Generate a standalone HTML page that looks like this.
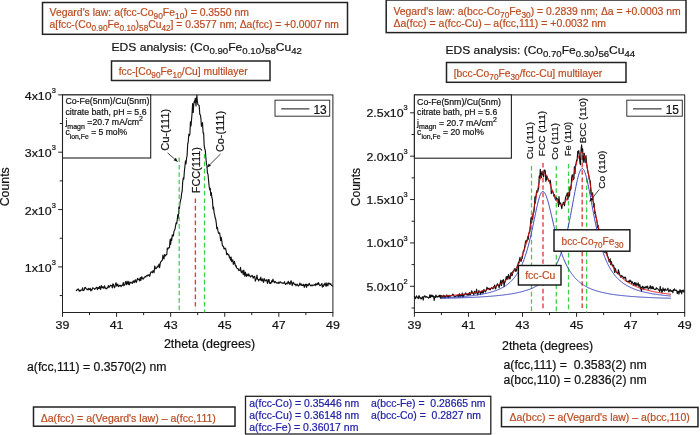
<!DOCTYPE html>
<html><head><meta charset="utf-8"><title>XRD</title>
<style>
html,body{margin:0;padding:0;background:#fff;}
body{width:700px;height:435px;overflow:hidden;}
svg{display:block;font-family:"Liberation Sans",sans-serif;filter:opacity(0.999);}
</style></head><body>
<svg width="700" height="435" viewBox="0 0 700 435">
<rect x="0" y="0" width="700" height="435" fill="#fff"/>
<rect x="42.5" y="2.5" width="305.00" height="31.80" fill="#fff" stroke="#222" stroke-width="1.5"/>
<text x="49.6" y="15.5" font-size="10.2" fill="#bb4b20" stroke="#bb4b20" stroke-width="0.2" text-anchor="start" textLength="199.3" lengthAdjust="spacingAndGlyphs">Vegard's law: a(fcc-Co<tspan font-size="8.16" dy="3.06">90</tspan><tspan dy="-3.06">Fe</tspan><tspan font-size="8.16" dy="3.06">10</tspan><tspan dy="-3.06">) = 0.3550 nm</tspan></text>
<text x="49.6" y="28.3" font-size="10.2" fill="#bb4b20" stroke="#bb4b20" stroke-width="0.2" text-anchor="start" textLength="289.3" lengthAdjust="spacingAndGlyphs">a[fcc-(Co<tspan font-size="8.16" dy="3.06">0.90</tspan><tspan dy="-3.06">Fe</tspan><tspan font-size="8.16" dy="3.06">0.10</tspan><tspan dy="-3.06">)</tspan><tspan font-size="8.16" dy="3.06">58</tspan><tspan dy="-3.06">Cu</tspan><tspan font-size="8.16" dy="3.06">42</tspan><tspan dy="-3.06">] = 0.3577 nm; Δa(fcc) = +0.0007 nm</tspan></text>
<text x="111.5" y="50.8" font-size="11.5" fill="#111" stroke="#111" stroke-width="0.2" text-anchor="start" textLength="190.5" lengthAdjust="spacingAndGlyphs">EDS analysis: (Co<tspan font-size="9.20" dy="3.45">0.90</tspan><tspan dy="-3.45">Fe</tspan><tspan font-size="9.20" dy="3.45">0.10</tspan><tspan dy="-3.45">)</tspan><tspan font-size="9.20" dy="3.45">58</tspan><tspan dy="-3.45">Cu</tspan><tspan font-size="9.20" dy="3.45">42</tspan></text>
<rect x="111.5" y="61" width="158.50" height="19.50" fill="#fff" stroke="#222" stroke-width="1.5"/>
<text x="118.75" y="74.5" font-size="10.2" fill="#bb4b20" stroke="#bb4b20" stroke-width="0.2" text-anchor="start" textLength="128.9" lengthAdjust="spacingAndGlyphs">fcc-[Co<tspan font-size="8.16" dy="3.06">90</tspan><tspan dy="-3.06">Fe</tspan><tspan font-size="8.16" dy="3.06">10</tspan><tspan dy="-3.06">/Cu] multilayer</tspan></text>
<rect x="386.2" y="0" width="299.80" height="32.60" fill="#fff" stroke="#222" stroke-width="1.5"/>
<text x="393.4" y="14.7" font-size="10.2" fill="#bb4b20" stroke="#bb4b20" stroke-width="0.2" text-anchor="start" textLength="287.3" lengthAdjust="spacingAndGlyphs">Vegard's law: a(bcc-Co<tspan font-size="8.16" dy="3.06">70</tspan><tspan dy="-3.06">Fe</tspan><tspan font-size="8.16" dy="3.06">30</tspan><tspan dy="-3.06">) = 0.2839 nm; Δa = +0.0003 nm</tspan></text>
<text x="393.4" y="27.3" font-size="10.2" fill="#bb4b20" stroke="#bb4b20" stroke-width="0.2" text-anchor="start" textLength="212.6" lengthAdjust="spacingAndGlyphs">Δa(fcc) = a(fcc-Cu) – a(fcc,111) = +0.0032 nm</text>
<text x="445.5" y="53.8" font-size="11.5" fill="#111" stroke="#111" stroke-width="0.2" text-anchor="start" textLength="189.7" lengthAdjust="spacingAndGlyphs">EDS analysis: (Co<tspan font-size="9.20" dy="3.45">0.70</tspan><tspan dy="-3.45">Fe</tspan><tspan font-size="9.20" dy="3.45">0.30</tspan><tspan dy="-3.45">)</tspan><tspan font-size="9.20" dy="3.45">56</tspan><tspan dy="-3.45">Cu</tspan><tspan font-size="9.20" dy="3.45">44</tspan></text>
<rect x="446.5" y="62.5" width="179.50" height="19.80" fill="#fff" stroke="#222" stroke-width="1.5"/>
<text x="453.75" y="76.6" font-size="10.2" fill="#bb4b20" stroke="#bb4b20" stroke-width="0.2" text-anchor="start" textLength="148.5" lengthAdjust="spacingAndGlyphs">[bcc-Co<tspan font-size="8.16" dy="3.06">70</tspan><tspan dy="-3.06">Fe</tspan><tspan font-size="8.16" dy="3.06">30</tspan><tspan dy="-3.06">/fcc-Cu] multilayer</tspan></text>
<rect x="62.5" y="94.9" width="270.40" height="217.60" fill="none" stroke="#222" stroke-width="1"/>
<line x1="62.50" y1="312.50" x2="62.50" y2="316.80" stroke="#222" stroke-width="1"/>
<text x="55.6" y="328.7" font-size="11.7" fill="#111" stroke="#111" stroke-width="0.2" text-anchor="start" textLength="13.8" lengthAdjust="spacingAndGlyphs">39</text>
<line x1="89.54" y1="312.50" x2="89.54" y2="315.10" stroke="#222" stroke-width="1"/>
<line x1="116.58" y1="312.50" x2="116.58" y2="316.80" stroke="#222" stroke-width="1"/>
<text x="109.67999999999999" y="328.7" font-size="11.7" fill="#111" stroke="#111" stroke-width="0.2" text-anchor="start" textLength="13.8" lengthAdjust="spacingAndGlyphs">41</text>
<line x1="143.62" y1="312.50" x2="143.62" y2="315.10" stroke="#222" stroke-width="1"/>
<line x1="170.66" y1="312.50" x2="170.66" y2="316.80" stroke="#222" stroke-width="1"/>
<text x="163.76" y="328.7" font-size="11.7" fill="#111" stroke="#111" stroke-width="0.2" text-anchor="start" textLength="13.8" lengthAdjust="spacingAndGlyphs">43</text>
<line x1="197.70" y1="312.50" x2="197.70" y2="315.10" stroke="#222" stroke-width="1"/>
<line x1="224.74" y1="312.50" x2="224.74" y2="316.80" stroke="#222" stroke-width="1"/>
<text x="217.84" y="328.7" font-size="11.7" fill="#111" stroke="#111" stroke-width="0.2" text-anchor="start" textLength="13.8" lengthAdjust="spacingAndGlyphs">45</text>
<line x1="251.78" y1="312.50" x2="251.78" y2="315.10" stroke="#222" stroke-width="1"/>
<line x1="278.82" y1="312.50" x2="278.82" y2="316.80" stroke="#222" stroke-width="1"/>
<text x="271.92" y="328.7" font-size="11.7" fill="#111" stroke="#111" stroke-width="0.2" text-anchor="start" textLength="13.8" lengthAdjust="spacingAndGlyphs">47</text>
<line x1="305.86" y1="312.50" x2="305.86" y2="315.10" stroke="#222" stroke-width="1"/>
<line x1="332.90" y1="312.50" x2="332.90" y2="316.80" stroke="#222" stroke-width="1"/>
<text x="326.0" y="328.7" font-size="11.7" fill="#111" stroke="#111" stroke-width="0.2" text-anchor="start" textLength="13.8" lengthAdjust="spacingAndGlyphs">49</text>
<line x1="59.70" y1="295.57" x2="62.50" y2="295.57" stroke="#222" stroke-width="1"/>
<line x1="58.20" y1="266.90" x2="62.50" y2="266.90" stroke="#222" stroke-width="1"/>
<text x="24.8" y="271.9" font-size="11.7" fill="#111" stroke="#111" stroke-width="0.2" text-anchor="start" textLength="31.0" lengthAdjust="spacingAndGlyphs">1x10<tspan font-size="7.02" dy="-6.79">3</tspan></text>
<line x1="59.70" y1="238.22" x2="62.50" y2="238.22" stroke="#222" stroke-width="1"/>
<line x1="58.20" y1="209.55" x2="62.50" y2="209.55" stroke="#222" stroke-width="1"/>
<text x="24.8" y="214.54999999999998" font-size="11.7" fill="#111" stroke="#111" stroke-width="0.2" text-anchor="start" textLength="31.0" lengthAdjust="spacingAndGlyphs">2x10<tspan font-size="7.02" dy="-6.79">3</tspan></text>
<line x1="59.70" y1="180.88" x2="62.50" y2="180.88" stroke="#222" stroke-width="1"/>
<line x1="58.20" y1="152.20" x2="62.50" y2="152.20" stroke="#222" stroke-width="1"/>
<text x="24.8" y="157.2" font-size="11.7" fill="#111" stroke="#111" stroke-width="0.2" text-anchor="start" textLength="31.0" lengthAdjust="spacingAndGlyphs">3x10<tspan font-size="7.02" dy="-6.79">3</tspan></text>
<line x1="59.70" y1="123.52" x2="62.50" y2="123.52" stroke="#222" stroke-width="1"/>
<line x1="58.20" y1="94.85" x2="62.50" y2="94.85" stroke="#222" stroke-width="1"/>
<text x="24.8" y="99.85" font-size="11.7" fill="#111" stroke="#111" stroke-width="0.2" text-anchor="start" textLength="31.0" lengthAdjust="spacingAndGlyphs">4x10<tspan font-size="7.02" dy="-6.79">3</tspan></text>
<text x="9" y="206.3" font-size="12" fill="#111" stroke="#111" stroke-width="0.2" text-anchor="start" transform="rotate(-90 9 206.3)" textLength="39.1" lengthAdjust="spacingAndGlyphs">Counts</text>
<text x="163.9" y="348" font-size="12" fill="#111" stroke="#111" stroke-width="0.2" text-anchor="start" textLength="91.3" lengthAdjust="spacingAndGlyphs">2theta (degrees)</text>
<path d="M76.0,289.9 L76.5,290.7 L77.1,289.8 L77.6,289.7 L78.2,288.9 L78.7,289.7 L79.3,291.2 L79.8,290.3 L80.4,291.0 L80.9,290.1 L81.5,290.2 L82.0,289.9 L82.6,287.8 L83.1,290.6 L83.7,290.2 L84.2,290.1 L84.8,287.5 L85.3,287.4 L85.9,288.4 L86.4,288.8 L87.0,289.7 L87.5,289.2 L88.1,289.8 L88.6,288.4 L89.2,289.5 L89.7,289.5 L90.3,288.3 L90.8,290.9 L91.4,289.6 L91.9,290.2 L92.5,288.1 L93.0,287.9 L93.6,288.3 L94.1,288.5 L94.7,289.3 L95.2,288.8 L95.8,288.0 L96.3,287.3 L96.9,287.8 L97.4,289.7 L98.0,287.3 L98.5,288.5 L99.1,288.6 L99.6,286.3 L100.2,288.1 L100.7,289.5 L101.3,285.5 L101.8,287.4 L102.4,287.6 L102.9,286.7 L103.5,288.2 L104.0,287.5 L104.6,285.8 L105.1,288.4 L105.7,288.1 L106.2,288.4 L106.8,288.9 L107.3,287.5 L107.9,287.2 L108.4,285.5 L109.0,287.6 L109.5,286.1 L110.1,286.2 L110.6,285.2 L111.2,285.4 L111.7,285.9 L112.3,287.9 L112.8,283.9 L113.4,284.5 L113.9,286.4 L114.5,287.7 L115.0,286.6 L115.6,283.6 L116.1,282.8 L116.7,286.1 L117.2,284.7 L117.8,284.1 L118.3,286.5 L118.9,286.6 L119.4,285.3 L120.0,285.3 L120.5,285.4 L121.1,286.7 L121.6,285.4 L122.2,285.2 L122.7,285.1 L123.3,282.5 L123.8,285.8 L124.4,285.2 L124.9,284.6 L125.5,281.5 L126.0,282.9 L126.6,284.6 L127.1,281.2 L127.7,283.1 L128.2,284.4 L128.8,281.4 L129.3,284.8 L129.9,283.3 L130.4,282.3 L131.0,282.8 L131.5,283.0 L132.1,282.2 L132.6,283.3 L133.2,280.9 L133.7,281.0 L134.3,282.6 L134.8,281.1 L135.4,279.8 L135.9,281.9 L136.5,282.3 L137.0,279.8 L137.6,278.4 L138.1,279.7 L138.7,279.5 L139.2,279.0 L139.8,281.0 L140.3,277.6 L140.9,280.3 L141.5,276.8 L142.0,277.2 L142.6,278.7 L143.1,279.1 L143.7,278.4 L144.2,277.5 L144.8,276.9 L145.3,276.6 L145.9,276.9 L146.4,275.6 L147.0,275.8 L147.5,275.9 L148.1,274.8 L148.6,275.4 L149.2,274.8 L149.7,276.3 L150.3,273.7 L150.8,272.3 L151.4,271.9 L151.9,271.9 L152.5,272.8 L153.0,270.6 L153.6,271.1 L154.1,272.6 L154.7,266.0 L155.2,267.5 L155.8,268.8 L156.3,268.5 L156.9,267.6 L157.4,266.1 L158.0,267.0 L158.5,265.8 L159.1,264.0 L159.6,267.6 L160.2,263.8 L160.7,261.7 L161.3,261.6 L161.8,260.6 L162.4,260.0 L162.9,255.1 L163.5,257.6 L164.0,259.0 L164.6,254.6 L165.1,255.3 L165.7,255.8 L166.2,254.6 L166.8,254.5 L167.3,248.1 L167.9,249.1 L168.4,247.8 L169.0,248.0 L169.5,247.4 L170.1,239.5 L170.6,244.5 L171.2,238.4 L171.7,240.5 L172.3,234.9 L172.8,236.1 L173.4,236.0 L173.9,231.6 L174.5,230.1 L175.0,229.2 L175.6,225.6 L176.1,222.8 L176.7,223.6 L177.2,220.1 L177.8,214.7 L178.3,218.3 L178.9,207.1 L179.4,208.5 L180.0,202.8 L180.5,200.4 L181.1,198.3 L181.6,193.6 L182.2,191.0 L182.7,181.9 L183.3,177.9 L183.8,179.2 L184.4,171.0 L184.9,166.5 L185.5,160.8 L186.0,164.0 L186.6,158.0 L187.1,155.7 L187.7,144.0 L188.2,142.2 L188.8,134.2 L189.3,135.7 L189.9,134.0 L190.4,121.9 L191.0,125.9 L191.5,120.3 L192.1,112.9 L192.6,103.6 L193.2,112.5 L193.7,104.9 L194.3,101.2 L194.6,102.5 L195.3,98.2 L196.0,106.0 L196.5,99.0 L196.9,95.2 L197.3,101.0 L197.9,104.5 L198.7,105.1 L199.2,105.6 L199.8,114.5 L200.3,114.7 L200.9,118.2 L201.4,126.3 L202.0,124.8 L202.5,122.5 L203.1,133.0 L203.6,132.9 L204.2,145.6 L204.7,148.6 L205.3,150.4 L205.8,156.7 L206.4,163.5 L206.9,165.8 L207.5,173.4 L208.0,174.0 L208.6,180.9 L209.1,185.9 L209.7,190.0 L210.2,188.2 L210.8,195.5 L211.3,192.6 L211.9,197.8 L212.4,199.2 L213.0,209.0 L213.5,207.0 L214.1,212.4 L214.6,214.8 L215.2,217.8 L215.7,219.2 L216.3,223.2 L216.8,228.6 L217.4,227.4 L217.9,230.4 L218.5,233.3 L219.0,233.0 L219.6,232.9 L220.1,236.0 L220.7,240.6 L221.2,237.4 L221.8,240.8 L222.3,245.1 L222.9,246.1 L223.4,246.2 L224.0,248.8 L224.5,249.0 L225.1,248.0 L225.6,248.6 L226.2,251.2 L226.7,254.7 L227.3,253.4 L227.8,253.9 L228.4,255.1 L228.9,254.8 L229.5,257.9 L230.0,257.1 L230.6,260.2 L231.1,257.0 L231.7,261.7 L232.2,261.0 L232.8,259.8 L233.3,264.3 L233.9,263.5 L234.4,261.4 L235.0,263.9 L235.5,266.2 L236.1,265.7 L236.6,267.9 L237.2,268.4 L237.7,268.8 L238.3,268.8 L238.8,270.6 L239.4,270.2 L239.9,270.3 L240.5,267.3 L241.0,271.8 L241.6,272.7 L242.1,270.9 L242.7,271.1 L243.2,274.6 L243.8,270.1 L244.3,273.4 L244.9,276.3 L245.4,272.2 L246.0,274.6 L246.5,276.4 L247.1,274.1 L247.6,275.3 L248.2,276.0 L248.7,273.9 L249.3,275.3 L249.8,276.0 L250.4,276.9 L250.9,276.1 L251.5,276.1 L252.0,275.3 L252.6,276.3 L253.1,278.1 L253.7,277.3 L254.2,276.3 L254.8,276.5 L255.3,281.1 L255.9,279.4 L256.4,278.9 L257.0,275.1 L257.5,279.2 L258.1,279.2 L258.6,280.9 L259.2,279.5 L259.7,279.0 L260.3,279.9 L260.8,277.0 L261.4,280.8 L261.9,280.1 L262.5,278.9 L263.0,281.5 L263.6,282.3 L264.1,278.5 L264.7,279.5 L265.2,280.8 L265.8,280.8 L266.3,280.2 L266.9,279.6 L267.4,283.4 L268.0,282.2 L268.5,279.6 L269.1,279.6 L269.6,283.3 L270.2,282.5 L270.7,283.6 L271.3,282.5 L271.8,280.6 L272.4,282.0 L272.9,279.2 L273.5,281.0 L274.0,281.9 L274.6,282.7 L275.1,281.3 L275.7,282.0 L276.2,282.8 L276.8,282.8 L277.3,283.2 L277.9,282.7 L278.4,282.2 L279.0,283.5 L279.5,282.7 L280.1,281.8 L280.6,282.1 L281.2,282.9 L281.7,282.8 L282.3,283.2 L282.8,283.0 L283.4,283.3 L283.9,283.0 L284.5,281.7 L285.0,283.7 L285.6,284.5 L286.1,283.8 L286.7,283.2 L287.2,283.9 L287.8,282.3 L288.3,281.3 L288.9,283.6 L289.4,282.5 L290.0,284.5 L290.5,282.4 L291.1,280.7 L291.6,282.6 L292.2,285.6 L292.7,283.4 L293.3,282.3 L293.8,283.0 L294.4,284.5 L294.9,284.6 L295.5,284.2 L296.0,285.8 L296.6,284.9 L297.1,284.1 L297.7,284.8 L298.2,286.1 L298.8,285.3 L299.3,285.4 L299.9,283.0 L300.4,284.1 L301.0,285.2 L301.5,284.0 L302.1,285.6 L302.6,285.1 L303.2,285.5 L303.7,284.2 L304.3,287.4 L304.8,285.9 L305.4,284.3 L305.9,284.6 L306.5,287.5 L307.0,284.2 L307.6,285.6 L308.1,285.7 L308.7,284.6 L309.2,283.3 L309.8,284.9 L310.3,285.1 L310.9,286.0 L311.4,285.6 L312.0,284.8 L312.5,285.7 L313.1,285.4 L313.6,285.0 L314.2,284.9 L314.7,284.5 L315.3,285.6 L315.8,283.6 L316.4,284.1 L316.9,284.9 L317.5,283.2 L318.0,284.4 L318.6,282.6 L319.1,284.2 L319.7,285.6 L320.2,285.6 L320.8,284.9 L321.3,284.7 L321.9,283.4 L322.4,287.1 L323.0,285.6 L323.5,286.3 L324.1,284.0 L324.6,284.8 L325.2,283.0 L325.7,285.9 L326.3,286.1 L326.8,282.9 L327.4,285.0 L327.9,285.8 L328.5,283.1 L329.0,283.0 L329.6,283.9 L330.1,284.4 L330.7,283.5 L331.2,285.2 L331.8,285.4 L332.3,285.9 L332.9,285.9" fill="none" stroke="#111" stroke-width="1.15" stroke-linejoin="round"/>
<line x1="179.20" y1="157.50" x2="179.20" y2="312.50" stroke="#3ccf48" stroke-width="1.25" stroke-dasharray="4.6 2.8"/>
<line x1="204.50" y1="154.00" x2="204.50" y2="312.50" stroke="#3ccf48" stroke-width="1.25" stroke-dasharray="4.6 2.8"/>
<line x1="195.40" y1="198.40" x2="195.40" y2="309.80" stroke="#e03a3c" stroke-width="1.35" stroke-dasharray="4.6 2.8"/>
<text x="169" y="150.8" font-size="10.5" fill="#111" stroke="#111" stroke-width="0.2" text-anchor="start" transform="rotate(-90 169 150.8)" textLength="42.1" lengthAdjust="spacingAndGlyphs">Cu-(111)</text>
<text x="223.6" y="151.9" font-size="10.5" fill="#111" stroke="#111" stroke-width="0.2" text-anchor="start" transform="rotate(-90 223.6 151.9)" textLength="40.9" lengthAdjust="spacingAndGlyphs">Co-(111)</text>
<text x="199.7" y="193.2" font-size="10.5" fill="#111" stroke="#111" stroke-width="0.2" text-anchor="start" transform="rotate(-90 199.7 193.2)" textLength="46.1" lengthAdjust="spacingAndGlyphs">FCC(111)</text>
<line x1="167.60" y1="152.90" x2="174.61" y2="159.04" stroke="#111" stroke-width="0.8"/><polygon points="178.0,162.0 173.6,160.2 175.7,157.8" fill="#111"/>
<line x1="220.50" y1="154.00" x2="209.88" y2="164.62" stroke="#111" stroke-width="0.8"/><polygon points="206.7,167.8 208.8,163.5 211.0,165.7" fill="#111"/>
<rect x="62.5" y="94.9" width="88.20" height="63.10" fill="#fff" stroke="#222" stroke-width="1.1"/>
<text x="65.4" y="103.7" font-size="8.5" fill="#111" stroke="#111" stroke-width="0.2" text-anchor="start" textLength="84.0" lengthAdjust="spacingAndGlyphs">Co-Fe(5nm)/Cu(5nm)</text>
<text x="65.4" y="114.5" font-size="8.5" fill="#111" stroke="#111" stroke-width="0.2" text-anchor="start" textLength="81.1" lengthAdjust="spacingAndGlyphs">citrate bath, pH = 5.6</text>
<text x="65.4" y="124.6" font-size="8.5" fill="#111" stroke="#111" stroke-width="0.2" text-anchor="start" textLength="77.6" lengthAdjust="spacingAndGlyphs">j<tspan font-size="6.80" dy="3.91">magn</tspan><tspan dy="-3.91"> =20.7 mA/cm</tspan><tspan font-size="6.80" dy="-3.57">2</tspan></text>
<text x="65.4" y="135.1" font-size="8.5" fill="#111" stroke="#111" stroke-width="0.2" text-anchor="start" textLength="61.8" lengthAdjust="spacingAndGlyphs">c<tspan font-size="6.80" dy="3.91">ion,Fe</tspan><tspan dy="-3.91"> = 5 mol%</tspan></text>
<rect x="275" y="100.2" width="54.70" height="16.00" fill="#fff" stroke="#333" stroke-width="1"/>
<line x1="281.20" y1="108.90" x2="309.40" y2="108.90" stroke="#111" stroke-width="1"/>
<text x="313.4" y="113.7" font-size="12" fill="#111" stroke="#111" stroke-width="0.2" text-anchor="start" textLength="13.4" lengthAdjust="spacingAndGlyphs">13</text>
<text x="27" y="370.5" font-size="12" fill="#111" stroke="#111" stroke-width="0.2" text-anchor="start" textLength="139.4" lengthAdjust="spacingAndGlyphs">a(fcc,111) = 0.3570(2) nm</text>
<rect x="414.4" y="94.9" width="270.30" height="217.60" fill="none" stroke="#222" stroke-width="1"/>
<line x1="414.40" y1="312.50" x2="414.40" y2="316.80" stroke="#222" stroke-width="1"/>
<text x="407.5" y="328.7" font-size="11.7" fill="#111" stroke="#111" stroke-width="0.2" text-anchor="start" textLength="13.8" lengthAdjust="spacingAndGlyphs">39</text>
<line x1="441.43" y1="312.50" x2="441.43" y2="315.10" stroke="#222" stroke-width="1"/>
<line x1="468.46" y1="312.50" x2="468.46" y2="316.80" stroke="#222" stroke-width="1"/>
<text x="461.56" y="328.7" font-size="11.7" fill="#111" stroke="#111" stroke-width="0.2" text-anchor="start" textLength="13.8" lengthAdjust="spacingAndGlyphs">41</text>
<line x1="495.49" y1="312.50" x2="495.49" y2="315.10" stroke="#222" stroke-width="1"/>
<line x1="522.52" y1="312.50" x2="522.52" y2="316.80" stroke="#222" stroke-width="1"/>
<text x="515.62" y="328.7" font-size="11.7" fill="#111" stroke="#111" stroke-width="0.2" text-anchor="start" textLength="13.8" lengthAdjust="spacingAndGlyphs">43</text>
<line x1="549.55" y1="312.50" x2="549.55" y2="315.10" stroke="#222" stroke-width="1"/>
<line x1="576.58" y1="312.50" x2="576.58" y2="316.80" stroke="#222" stroke-width="1"/>
<text x="569.68" y="328.7" font-size="11.7" fill="#111" stroke="#111" stroke-width="0.2" text-anchor="start" textLength="13.8" lengthAdjust="spacingAndGlyphs">45</text>
<line x1="603.61" y1="312.50" x2="603.61" y2="315.10" stroke="#222" stroke-width="1"/>
<line x1="630.64" y1="312.50" x2="630.64" y2="316.80" stroke="#222" stroke-width="1"/>
<text x="623.74" y="328.7" font-size="11.7" fill="#111" stroke="#111" stroke-width="0.2" text-anchor="start" textLength="13.8" lengthAdjust="spacingAndGlyphs">47</text>
<line x1="657.67" y1="312.50" x2="657.67" y2="315.10" stroke="#222" stroke-width="1"/>
<line x1="684.70" y1="312.50" x2="684.70" y2="316.80" stroke="#222" stroke-width="1"/>
<text x="677.8000000000001" y="328.7" font-size="11.7" fill="#111" stroke="#111" stroke-width="0.2" text-anchor="start" textLength="13.8" lengthAdjust="spacingAndGlyphs">49</text>
<line x1="411.60" y1="307.99" x2="414.40" y2="307.99" stroke="#222" stroke-width="1"/>
<line x1="410.10" y1="286.30" x2="414.40" y2="286.30" stroke="#222" stroke-width="1"/>
<text x="366.5" y="290.7" font-size="11.7" fill="#111" stroke="#111" stroke-width="0.2" text-anchor="start" textLength="41.2" lengthAdjust="spacingAndGlyphs">5.0x10<tspan font-size="7.02" dy="-6.79">2</tspan></text>
<line x1="411.60" y1="264.61" x2="414.40" y2="264.61" stroke="#222" stroke-width="1"/>
<line x1="410.10" y1="242.93" x2="414.40" y2="242.93" stroke="#222" stroke-width="1"/>
<text x="366.5" y="247.32500000000002" font-size="11.7" fill="#111" stroke="#111" stroke-width="0.2" text-anchor="start" textLength="41.2" lengthAdjust="spacingAndGlyphs">1.0x10<tspan font-size="7.02" dy="-6.79">3</tspan></text>
<line x1="411.60" y1="221.24" x2="414.40" y2="221.24" stroke="#222" stroke-width="1"/>
<line x1="410.10" y1="199.55" x2="414.40" y2="199.55" stroke="#222" stroke-width="1"/>
<text x="366.5" y="203.95000000000002" font-size="11.7" fill="#111" stroke="#111" stroke-width="0.2" text-anchor="start" textLength="41.2" lengthAdjust="spacingAndGlyphs">1.5x10<tspan font-size="7.02" dy="-6.79">3</tspan></text>
<line x1="411.60" y1="177.86" x2="414.40" y2="177.86" stroke="#222" stroke-width="1"/>
<line x1="410.10" y1="156.18" x2="414.40" y2="156.18" stroke="#222" stroke-width="1"/>
<text x="366.5" y="160.57500000000002" font-size="11.7" fill="#111" stroke="#111" stroke-width="0.2" text-anchor="start" textLength="41.2" lengthAdjust="spacingAndGlyphs">2.0x10<tspan font-size="7.02" dy="-6.79">3</tspan></text>
<line x1="411.60" y1="134.49" x2="414.40" y2="134.49" stroke="#222" stroke-width="1"/>
<line x1="410.10" y1="112.80" x2="414.40" y2="112.80" stroke="#222" stroke-width="1"/>
<text x="366.5" y="117.20000000000002" font-size="11.7" fill="#111" stroke="#111" stroke-width="0.2" text-anchor="start" textLength="41.2" lengthAdjust="spacingAndGlyphs">2.5x10<tspan font-size="7.02" dy="-6.79">3</tspan></text>
<text x="360.3" y="206.3" font-size="12" fill="#111" stroke="#111" stroke-width="0.2" text-anchor="start" transform="rotate(-90 360.3 206.3)" textLength="38.5" lengthAdjust="spacingAndGlyphs">Counts</text>
<text x="502" y="349.5" font-size="12" fill="#111" stroke="#111" stroke-width="0.2" text-anchor="start" textLength="91.2" lengthAdjust="spacingAndGlyphs">2theta (degrees)</text>
<line x1="531.50" y1="166.00" x2="531.50" y2="312.50" stroke="#3ccf48" stroke-width="1.25" stroke-dasharray="4.6 2.8"/>
<line x1="556.30" y1="166.00" x2="556.30" y2="312.50" stroke="#3ccf48" stroke-width="1.25" stroke-dasharray="4.6 2.8"/>
<line x1="568.50" y1="164.00" x2="568.50" y2="312.50" stroke="#3ccf48" stroke-width="1.25" stroke-dasharray="4.6 2.8"/>
<line x1="586.60" y1="178.00" x2="586.60" y2="312.50" stroke="#3ccf48" stroke-width="1.25" stroke-dasharray="4.6 2.8"/>
<line x1="543.00" y1="163.00" x2="543.00" y2="309.80" stroke="#e03a3c" stroke-width="1.35" stroke-dasharray="4.6 2.8"/>
<line x1="582.20" y1="148.00" x2="582.20" y2="309.80" stroke="#e03a3c" stroke-width="1.35" stroke-dasharray="4.6 2.8"/>
<path d="M414.4,296.1 L414.9,297.9 L415.5,298.6 L416.1,296.8 L416.6,295.9 L417.2,297.3 L417.7,297.9 L418.3,298.6 L418.8,295.9 L419.4,295.8 L419.9,298.1 L420.5,297.8 L421.0,299.0 L421.6,298.4 L422.1,297.1 L422.7,296.9 L423.2,300.1 L423.8,296.8 L424.3,296.2 L424.9,295.8 L425.4,297.2 L426.0,297.2 L426.5,296.6 L427.1,296.9 L427.6,297.3 L428.2,297.7 L428.7,298.2 L429.3,297.1 L429.8,294.8 L430.4,297.7 L430.9,295.1 L431.5,296.6 L432.0,295.0 L432.6,296.7 L433.1,295.8 L433.7,296.9 L434.2,300.5 L434.8,296.5 L435.3,297.6 L435.9,295.0 L436.4,296.2 L437.0,297.3 L437.5,296.3 L438.1,296.9 L438.6,296.5 L439.2,295.2 L439.7,297.0 L440.3,295.3 L440.8,298.5 L441.4,295.6 L441.9,297.0 L442.5,296.1 L443.0,297.2 L443.6,295.4 L444.1,297.2 L444.7,295.8 L445.2,297.5 L445.8,296.7 L446.3,296.0 L446.9,294.9 L447.4,296.7 L448.0,296.3 L448.5,297.7 L449.1,295.2 L449.6,296.3 L450.2,296.2 L450.7,295.9 L451.3,295.7 L451.8,295.7 L452.4,294.7 L452.9,294.1 L453.5,294.8 L454.0,296.0 L454.6,297.0 L455.1,296.3 L455.7,296.4 L456.2,296.0 L456.8,295.8 L457.3,295.1 L457.9,295.8 L458.4,297.0 L459.0,294.4 L459.5,293.8 L460.1,297.0 L460.6,294.9 L461.2,295.7 L461.7,295.5 L462.3,293.0 L462.8,297.3 L463.4,296.4 L463.9,294.4 L464.5,295.0 L465.0,294.2 L465.6,292.9 L466.1,293.8 L466.7,294.3 L467.2,295.1 L467.8,294.5 L468.3,293.7 L468.9,295.2 L469.4,292.5 L470.0,294.3 L470.5,294.6 L471.1,292.8 L471.6,290.8 L472.2,291.9 L472.7,293.2 L473.3,293.5 L473.8,294.7 L474.4,291.3 L474.9,292.5 L475.5,293.2 L476.0,292.1 L476.6,289.2 L477.1,293.1 L477.7,294.9 L478.2,293.2 L478.8,290.6 L479.3,291.1 L479.9,291.8 L480.4,294.6 L481.0,292.1 L481.5,291.3 L482.1,293.0 L482.6,290.8 L483.2,293.2 L483.7,289.7 L484.3,289.8 L484.8,291.2 L485.4,292.0 L485.9,290.8 L486.5,290.2 L487.0,287.2 L487.6,288.5 L488.1,288.5 L488.7,288.4 L489.2,289.7 L489.8,288.3 L490.3,289.6 L490.9,288.5 L491.4,287.7 L492.0,288.1 L492.5,288.4 L493.1,288.7 L493.6,286.7 L494.2,286.8 L494.7,285.0 L495.3,288.9 L495.8,288.4 L496.4,285.9 L496.9,285.2 L497.5,283.8 L498.0,285.5 L498.6,285.3 L499.1,287.8 L499.7,284.8 L500.2,283.0 L500.8,280.2 L501.3,285.5 L501.9,283.4 L502.4,280.3 L503.0,282.6 L503.5,279.6 L504.1,286.8 L504.6,282.9 L505.2,281.6 L505.7,280.0 L506.3,276.6 L506.8,279.2 L507.4,276.5 L507.9,279.3 L508.5,274.5 L509.0,275.9 L509.6,278.8 L510.1,278.9 L510.7,273.7 L511.2,272.5 L511.8,275.8 L512.3,275.1 L512.9,271.3 L513.4,271.1 L514.0,270.3 L514.5,268.7 L515.1,268.7 L515.6,271.3 L516.2,269.4 L516.7,271.0 L517.3,266.1 L517.8,265.1 L518.4,262.4 L518.9,263.0 L519.5,259.5 L520.0,257.4 L520.6,261.0 L521.1,261.3 L521.7,258.7 L522.2,258.4 L522.8,254.7 L523.3,251.1 L523.9,251.2 L524.4,248.6 L525.0,245.2 L525.5,242.0 L526.1,240.5 L526.6,242.0 L527.2,240.4 L527.7,236.7 L528.3,239.3 L528.8,233.8 L529.4,232.5 L529.9,231.8 L530.5,223.8 L531.0,217.9 L531.6,222.9 L532.1,216.0 L532.7,219.1 L533.2,213.3 L533.8,212.5 L534.3,208.9 L534.9,196.8 L535.4,203.0 L536.0,195.5 L536.5,192.3 L537.0,190.5 L537.6,192.1 L538.1,190.0 L538.7,188.1 L539.2,176.0 L539.8,177.9 L540.3,169.3 L540.9,176.3 L541.4,177.7 L542.0,171.5 L542.5,174.7 L543.1,174.2 L543.6,177.0 L544.2,169.9 L544.7,170.2 L545.3,170.9 L545.8,181.3 L546.4,179.5 L546.9,175.9 L547.5,178.3 L548.0,179.2 L548.6,180.9 L549.1,180.8 L549.7,181.9 L550.2,180.1 L550.8,184.0 L551.3,193.7 L551.9,191.3 L552.4,191.2 L553.0,191.8 L553.5,194.2 L554.1,196.6 L554.6,194.6 L555.2,198.7 L555.7,200.0 L556.3,197.8 L556.8,198.7 L557.4,198.9 L557.9,199.5 L558.5,206.5 L559.0,196.6 L559.6,203.7 L560.1,202.9 L560.7,203.1 L561.2,205.5 L561.8,208.7 L562.3,205.1 L562.9,204.1 L563.4,202.2 L564.0,203.2 L564.5,205.8 L565.1,200.8 L565.6,197.4 L566.2,195.9 L566.7,195.2 L567.3,192.9 L567.8,199.8 L568.4,195.7 L568.9,192.0 L569.5,196.2 L570.0,186.8 L570.6,189.9 L571.1,188.0 L571.7,177.3 L572.2,174.9 L572.8,175.0 L573.3,179.6 L573.9,178.9 L574.4,166.7 L575.0,173.4 L575.5,165.4 L576.1,163.2 L576.6,160.4 L577.2,159.4 L577.7,151.3 L578.3,153.0 L578.8,150.5 L579.4,156.7 L579.9,162.7 L580.5,164.8 L581.0,151.1 L581.6,144.9 L582.1,150.8 L582.7,149.0 L583.2,162.5 L583.8,157.5 L584.3,153.3 L584.9,162.1 L585.4,162.3 L586.0,155.5 L586.5,162.5 L587.1,166.3 L587.6,170.1 L588.2,173.4 L588.7,174.6 L589.3,179.7 L589.8,179.9 L590.4,182.0 L590.9,193.9 L591.5,193.0 L592.0,196.4 L592.6,192.8 L593.1,200.7 L593.7,207.0 L594.2,203.3 L594.8,213.7 L595.3,212.0 L595.9,217.2 L596.4,218.3 L597.0,222.0 L597.5,227.3 L598.1,225.3 L598.6,233.0 L599.2,229.1 L599.7,230.9 L600.3,237.2 L600.8,234.8 L601.4,238.5 L601.9,243.4 L602.5,245.9 L603.0,240.7 L603.6,247.6 L604.1,252.2 L604.7,252.2 L605.2,250.5 L605.8,251.1 L606.3,253.1 L606.9,252.6 L607.4,255.7 L608.0,257.1 L608.5,258.3 L609.1,262.0 L609.6,260.3 L610.2,258.9 L610.7,264.7 L611.3,261.6 L611.8,263.7 L612.4,265.1 L612.9,265.6 L613.5,265.2 L614.0,267.3 L614.6,272.4 L615.1,268.2 L615.7,269.7 L616.2,272.5 L616.8,272.5 L617.3,273.1 L617.9,273.8 L618.4,269.7 L619.0,272.1 L619.5,274.2 L620.1,275.3 L620.6,277.1 L621.2,276.2 L621.7,275.5 L622.3,276.4 L622.8,276.5 L623.4,277.6 L623.9,278.6 L624.5,277.4 L625.0,277.1 L625.6,277.4 L626.1,280.8 L626.7,281.4 L627.2,281.3 L627.8,281.5 L628.3,281.8 L628.9,280.9 L629.4,282.2 L630.0,280.0 L630.5,281.5 L631.1,281.1 L631.6,283.5 L632.2,281.9 L632.7,282.8 L633.3,283.8 L633.8,285.4 L634.4,282.6 L634.9,282.7 L635.5,285.4 L636.0,282.9 L636.6,285.3 L637.1,284.1 L637.7,285.0 L638.2,282.8 L638.8,286.5 L639.3,285.1 L639.9,284.7 L640.4,289.0 L641.0,287.2 L641.5,291.2 L642.1,287.1 L642.6,286.2 L643.2,287.0 L643.7,289.1 L644.3,287.1 L644.8,287.8 L645.4,288.0 L645.9,286.3 L646.5,287.8 L647.0,287.0 L647.6,286.2 L648.1,289.1 L648.7,288.9 L649.2,288.2 L649.8,287.0 L650.3,285.7 L650.9,289.0 L651.4,288.4 L652.0,286.4 L652.5,288.6 L653.1,286.8 L653.6,288.8 L654.2,289.1 L654.7,289.4 L655.3,289.3 L655.8,289.3 L656.4,287.7 L656.9,288.8 L657.5,288.7 L658.0,289.1 L658.6,289.8 L659.1,290.3 L659.7,291.6 L660.2,286.4 L660.8,290.2 L661.3,289.5 L661.9,292.6 L662.4,291.0 L663.0,287.8 L663.5,290.4 L664.1,289.3 L664.6,291.2 L665.2,288.8 L665.7,290.0 L666.3,290.1 L666.8,290.2 L667.4,289.6 L667.9,288.2 L668.5,291.1 L669.0,291.8 L669.6,290.5 L670.1,289.4 L670.7,291.0 L671.2,291.5 L671.8,290.7 L672.3,290.9 L672.9,292.7 L673.4,289.7 L674.0,290.4 L674.5,288.9 L675.1,290.4 L675.6,290.4 L676.2,290.2 L676.7,290.5 L677.3,293.6 L677.8,291.3 L678.4,291.4 L678.9,294.2 L679.5,291.6 L680.0,289.6 L680.6,292.2 L681.1,290.7 L681.7,293.8 L682.2,290.4 L682.8,291.2 L683.3,290.0 L683.9,292.1 L684.4,290.8" fill="none" stroke="#111" stroke-width="1.15" stroke-linejoin="round"/>
<path d="M441.0,297.8 L441.5,297.8 L442.0,297.8 L442.5,297.8 L443.0,297.8 L443.5,297.7 L444.0,297.7 L444.5,297.7 L445.0,297.7 L445.5,297.6 L446.0,297.6 L446.5,297.6 L447.0,297.6 L447.5,297.5 L448.0,297.5 L448.5,297.5 L449.0,297.5 L449.5,297.4 L450.0,297.4 L450.5,297.4 L451.0,297.4 L451.5,297.3 L452.0,297.3 L452.5,297.3 L453.0,297.2 L453.5,297.2 L454.0,297.2 L454.5,297.2 L455.0,297.1 L455.5,297.1 L456.0,297.1 L456.5,297.0 L457.0,297.0 L457.5,297.0 L458.0,296.9 L458.5,296.9 L459.0,296.8 L459.5,296.8 L460.0,296.8 L460.5,296.7 L461.0,296.7 L461.5,296.7 L462.0,296.6 L462.5,296.6 L463.0,296.5 L463.5,296.5 L464.0,296.4 L464.5,296.4 L465.0,296.4 L465.5,296.3 L466.0,296.3 L466.5,296.2 L467.0,296.2 L467.5,296.1 L468.0,296.1 L468.5,296.0 L469.0,296.0 L469.5,295.9 L470.0,295.9 L470.5,295.8 L471.0,295.7 L471.5,295.7 L472.0,295.6 L472.5,295.6 L473.0,295.5 L473.5,295.4 L474.0,295.4 L474.5,295.3 L475.0,295.3 L475.5,295.2 L476.0,295.1 L476.5,295.0 L477.0,295.0 L477.5,294.9 L478.0,294.8 L478.5,294.7 L479.0,294.7 L479.5,294.6 L480.0,294.5 L480.5,294.4 L481.0,294.3 L481.5,294.3 L482.0,294.2 L482.5,294.1 L483.0,294.0 L483.5,293.9 L484.0,293.8 L484.5,293.7 L485.0,293.6 L485.5,293.5 L486.0,293.4 L486.5,293.3 L487.0,293.1 L487.5,293.0 L488.0,292.9 L488.5,292.8 L489.0,292.7 L489.5,292.5 L490.0,292.4 L490.5,292.3 L491.0,292.1 L491.5,292.0 L492.0,291.8 L492.5,291.7 L493.0,291.5 L493.5,291.4 L494.0,291.2 L494.5,291.0 L495.0,290.9 L495.5,290.7 L496.0,290.5 L496.5,290.3 L497.0,290.1 L497.5,289.9 L498.0,289.7 L498.5,289.5 L499.0,289.3 L499.5,289.1 L500.0,288.8 L500.5,288.6 L501.0,288.3 L501.5,288.1 L502.0,287.8 L502.5,287.6 L503.0,287.3 L503.5,287.0 L504.0,286.7 L504.5,286.4 L505.0,286.1 L505.5,285.8 L506.0,285.4 L506.5,285.1 L507.0,284.7 L507.5,284.3 L508.0,283.9 L508.5,283.5 L509.0,283.1 L509.5,282.7 L510.0,282.3 L510.5,281.8 L511.0,281.3 L511.5,280.8 L512.0,280.3 L512.5,279.8 L513.0,279.2 L513.5,278.7 L514.0,278.1 L514.5,277.4 L515.0,276.8 L515.5,276.1 L516.0,275.4 L516.5,274.7 L517.0,274.0 L517.5,273.2 L518.0,272.4 L518.5,271.5 L519.0,270.6 L519.5,269.7 L520.0,268.8 L520.5,267.8 L521.0,266.7 L521.5,265.6 L522.0,264.5 L522.5,263.3 L523.0,262.1 L523.5,260.9 L524.0,259.5 L524.5,258.2 L525.0,256.7 L525.5,255.2 L526.0,253.7 L526.5,252.1 L527.0,250.4 L527.5,248.7 L528.0,246.9 L528.5,245.0 L529.0,243.1 L529.5,241.1 L530.0,239.0 L530.5,236.9 L531.0,234.7 L531.5,232.5 L532.0,230.2 L532.5,227.9 L533.0,225.5 L533.5,223.1 L534.0,220.7 L534.5,218.3 L535.0,215.9 L535.5,213.4 L536.0,211.1 L536.5,208.7 L537.0,206.5 L537.5,204.3 L538.0,202.2 L538.5,200.3 L539.0,198.5 L539.5,196.8 L540.0,195.4 L540.5,194.2 L541.0,193.1 L541.5,192.4 L542.0,191.8 L542.5,191.5 L543.0,191.5 L543.5,191.7 L544.0,192.1 L544.5,192.7 L545.0,193.4 L545.5,194.4 L546.0,195.5 L546.5,196.8 L547.0,198.3 L547.5,199.8 L548.0,201.5 L548.5,203.3 L549.0,205.2 L549.5,207.2 L550.0,209.2 L550.5,211.3 L551.0,213.4 L551.5,215.6 L552.0,217.7 L552.5,219.9 L553.0,222.0 L553.5,224.2 L554.0,226.3 L554.5,228.4 L555.0,230.5 L555.5,232.5 L556.0,234.5 L556.5,236.4 L557.0,238.3 L557.5,240.2 L558.0,242.0 L558.5,243.7 L559.0,245.4 L559.5,247.1 L560.0,248.7 L560.5,250.2 L561.0,251.7 L561.5,253.2 L562.0,254.6 L562.5,255.9 L563.0,257.2 L563.5,258.5 L564.0,259.7 L564.5,260.9 L565.0,262.0 L565.5,263.1 L566.0,264.1 L566.5,265.2 L567.0,266.1 L567.5,267.1 L568.0,268.0 L568.5,268.9 L569.0,269.7 L569.5,270.5 L570.0,271.3 L570.5,272.1 L571.0,272.8 L571.5,273.5 L572.0,274.2 L572.5,274.9 L573.0,275.5 L573.5,276.1 L574.0,276.7 L574.5,277.3 L575.0,277.9 L575.5,278.4 L576.0,278.9 L576.5,279.4 L577.0,279.9 L577.5,280.4 L578.0,280.8 L578.5,281.3 L579.0,281.7 L579.5,282.1 L580.0,282.5 L580.5,282.9 L581.0,283.3 L581.5,283.7 L582.0,284.0 L582.5,284.3 L583.0,284.7 L583.5,285.0 L584.0,285.3 L584.5,285.6 L585.0,285.9 L585.5,286.2 L586.0,286.5 L586.5,286.7 L587.0,287.0 L587.5,287.3 L588.0,287.5 L588.5,287.8 L589.0,288.0 L589.5,288.2 L590.0,288.4 L590.5,288.7 L591.0,288.9 L591.5,289.1 L592.0,289.3 L592.5,289.5 L593.0,289.7 L593.5,289.8 L594.0,290.0 L594.5,290.2 L595.0,290.4 L595.5,290.5 L596.0,290.7 L596.5,290.8 L597.0,291.0 L597.5,291.2 L598.0,291.3 L598.5,291.4 L599.0,291.6 L599.5,291.7 L600.0,291.9 L600.5,292.0 L601.0,292.1 L601.5,292.2 L602.0,292.4 L602.5,292.5 L603.0,292.6 L603.5,292.7 L604.0,292.8 L604.5,292.9 L605.0,293.0 L605.5,293.1 L606.0,293.2 L606.5,293.3 L607.0,293.4 L607.5,293.5 L608.0,293.6 L608.5,293.7 L609.0,293.8 L609.5,293.9 L610.0,294.0 L610.5,294.1 L611.0,294.1 L611.5,294.2 L612.0,294.3 L612.5,294.4 L613.0,294.4 L613.5,294.5 L614.0,294.6 L614.5,294.7 L615.0,294.7 L615.5,294.8 L616.0,294.9 L616.5,294.9 L617.0,295.0 L617.5,295.1 L618.0,295.1 L618.5,295.2 L619.0,295.3 L619.5,295.3 L620.0,295.4 L620.5,295.4 L621.0,295.5 L621.5,295.5 L622.0,295.6 L622.5,295.6 L623.0,295.7 L623.5,295.7 L624.0,295.8 L624.5,295.8 L625.0,295.9 L625.5,295.9 L626.0,296.0 L626.5,296.0 L627.0,296.1 L627.5,296.1 L628.0,296.2 L628.5,296.2 L629.0,296.3 L629.5,296.3 L630.0,296.3 L630.5,296.4 L631.0,296.4 L631.5,296.5 L632.0,296.5 L632.5,296.5 L633.0,296.6 L633.5,296.6 L634.0,296.6 L634.5,296.7 L635.0,296.7 L635.5,296.7 L636.0,296.8 L636.5,296.8 L637.0,296.8 L637.5,296.9 L638.0,296.9 L638.5,296.9 L639.0,297.0 L639.5,297.0 L640.0,297.0 L640.5,297.1 L641.0,297.1 L641.5,297.1 L642.0,297.1 L642.5,297.2 L643.0,297.2 L643.5,297.2 L644.0,297.3 L644.5,297.3 L645.0,297.3 L645.5,297.3 L646.0,297.4 L646.5,297.4 L647.0,297.4 L647.5,297.4 L648.0,297.5 L648.5,297.5 L649.0,297.5 L649.5,297.5 L650.0,297.5 L650.5,297.6 L651.0,297.6 L651.5,297.6 L652.0,297.6 L652.5,297.7 L653.0,297.7 L653.5,297.7 L654.0,297.7 L654.5,297.7 L655.0,297.8 L655.5,297.8 L656.0,297.8 L656.5,297.8 L657.0,297.8 L657.5,297.9 L658.0,297.9 L658.5,297.9 L659.0,297.9 L659.5,297.9 L660.0,297.9 L660.5,298.0 L661.0,298.0 L661.5,298.0 L662.0,298.0 L662.5,298.0 L663.0,298.0 L663.5,298.1 L664.0,298.1 L664.5,298.1 L665.0,298.1 L665.5,298.1 L666.0,298.1 L666.5,298.1 L667.0,298.2 L667.5,298.2 L668.0,298.2 L668.5,298.2 L669.0,298.2 L669.5,298.2 L670.0,298.2 L670.5,298.3 L671.0,298.3" fill="none" stroke="#2a35b8" stroke-width="0.9" stroke-linejoin="round"/>
<path d="M441.0,298.4 L441.5,298.4 L442.0,298.4 L442.5,298.4 L443.0,298.3 L443.5,298.3 L444.0,298.3 L444.5,298.3 L445.0,298.3 L445.5,298.3 L446.0,298.3 L446.5,298.3 L447.0,298.3 L447.5,298.2 L448.0,298.2 L448.5,298.2 L449.0,298.2 L449.5,298.2 L450.0,298.2 L450.5,298.2 L451.0,298.1 L451.5,298.1 L452.0,298.1 L452.5,298.1 L453.0,298.1 L453.5,298.1 L454.0,298.1 L454.5,298.0 L455.0,298.0 L455.5,298.0 L456.0,298.0 L456.5,298.0 L457.0,298.0 L457.5,297.9 L458.0,297.9 L458.5,297.9 L459.0,297.9 L459.5,297.9 L460.0,297.9 L460.5,297.8 L461.0,297.8 L461.5,297.8 L462.0,297.8 L462.5,297.8 L463.0,297.8 L463.5,297.7 L464.0,297.7 L464.5,297.7 L465.0,297.7 L465.5,297.7 L466.0,297.6 L466.5,297.6 L467.0,297.6 L467.5,297.6 L468.0,297.6 L468.5,297.5 L469.0,297.5 L469.5,297.5 L470.0,297.5 L470.5,297.5 L471.0,297.4 L471.5,297.4 L472.0,297.4 L472.5,297.4 L473.0,297.3 L473.5,297.3 L474.0,297.3 L474.5,297.3 L475.0,297.2 L475.5,297.2 L476.0,297.2 L476.5,297.2 L477.0,297.1 L477.5,297.1 L478.0,297.1 L478.5,297.1 L479.0,297.0 L479.5,297.0 L480.0,297.0 L480.5,296.9 L481.0,296.9 L481.5,296.9 L482.0,296.8 L482.5,296.8 L483.0,296.8 L483.5,296.8 L484.0,296.7 L484.5,296.7 L485.0,296.7 L485.5,296.6 L486.0,296.6 L486.5,296.6 L487.0,296.5 L487.5,296.5 L488.0,296.4 L488.5,296.4 L489.0,296.4 L489.5,296.3 L490.0,296.3 L490.5,296.3 L491.0,296.2 L491.5,296.2 L492.0,296.1 L492.5,296.1 L493.0,296.0 L493.5,296.0 L494.0,296.0 L494.5,295.9 L495.0,295.9 L495.5,295.8 L496.0,295.8 L496.5,295.7 L497.0,295.7 L497.5,295.6 L498.0,295.6 L498.5,295.5 L499.0,295.5 L499.5,295.4 L500.0,295.4 L500.5,295.3 L501.0,295.3 L501.5,295.2 L502.0,295.1 L502.5,295.1 L503.0,295.0 L503.5,295.0 L504.0,294.9 L504.5,294.8 L505.0,294.8 L505.5,294.7 L506.0,294.6 L506.5,294.6 L507.0,294.5 L507.5,294.4 L508.0,294.4 L508.5,294.3 L509.0,294.2 L509.5,294.1 L510.0,294.1 L510.5,294.0 L511.0,293.9 L511.5,293.8 L512.0,293.7 L512.5,293.7 L513.0,293.6 L513.5,293.5 L514.0,293.4 L514.5,293.3 L515.0,293.2 L515.5,293.1 L516.0,293.0 L516.5,292.9 L517.0,292.8 L517.5,292.7 L518.0,292.6 L518.5,292.5 L519.0,292.4 L519.5,292.2 L520.0,292.1 L520.5,292.0 L521.0,291.9 L521.5,291.8 L522.0,291.6 L522.5,291.5 L523.0,291.4 L523.5,291.2 L524.0,291.1 L524.5,290.9 L525.0,290.8 L525.5,290.6 L526.0,290.5 L526.5,290.3 L527.0,290.2 L527.5,290.0 L528.0,289.8 L528.5,289.6 L529.0,289.5 L529.5,289.3 L530.0,289.1 L530.5,288.9 L531.0,288.7 L531.5,288.5 L532.0,288.3 L532.5,288.1 L533.0,287.8 L533.5,287.6 L534.0,287.4 L534.5,287.1 L535.0,286.9 L535.5,286.6 L536.0,286.4 L536.5,286.1 L537.0,285.8 L537.5,285.6 L538.0,285.3 L538.5,285.0 L539.0,284.7 L539.5,284.3 L540.0,284.0 L540.5,283.7 L541.0,283.3 L541.5,283.0 L542.0,282.6 L542.5,282.2 L543.0,281.8 L543.5,281.4 L544.0,281.0 L544.5,280.6 L545.0,280.1 L545.5,279.7 L546.0,279.2 L546.5,278.7 L547.0,278.2 L547.5,277.7 L548.0,277.1 L548.5,276.5 L549.0,276.0 L549.5,275.4 L550.0,274.7 L550.5,274.1 L551.0,273.4 L551.5,272.7 L552.0,272.0 L552.5,271.3 L553.0,270.5 L553.5,269.7 L554.0,268.9 L554.5,268.0 L555.0,267.1 L555.5,266.2 L556.0,265.3 L556.5,264.3 L557.0,263.2 L557.5,262.2 L558.0,261.0 L558.5,259.9 L559.0,258.7 L559.5,257.5 L560.0,256.2 L560.5,254.8 L561.0,253.4 L561.5,252.0 L562.0,250.5 L562.5,248.9 L563.0,247.3 L563.5,245.6 L564.0,243.9 L564.5,242.1 L565.0,240.2 L565.5,238.3 L566.0,236.3 L566.5,234.3 L567.0,232.1 L567.5,229.9 L568.0,227.7 L568.5,225.3 L569.0,223.0 L569.5,220.5 L570.0,218.0 L570.5,215.5 L571.0,212.9 L571.5,210.2 L572.0,207.5 L572.5,204.8 L573.0,202.1 L573.5,199.4 L574.0,196.7 L574.5,194.0 L575.0,191.4 L575.5,188.8 L576.0,186.2 L576.5,183.8 L577.0,181.5 L577.5,179.3 L578.0,177.3 L578.5,175.4 L579.0,173.7 L579.5,172.3 L580.0,171.0 L580.5,170.0 L581.0,169.3 L581.5,168.8 L582.0,168.5 L582.5,168.5 L583.0,168.8 L583.5,169.4 L584.0,170.2 L584.5,171.3 L585.0,172.6 L585.5,174.1 L586.0,175.8 L586.5,177.7 L587.0,179.7 L587.5,182.0 L588.0,184.3 L588.5,186.7 L589.0,189.3 L589.5,191.9 L590.0,194.5 L590.5,197.2 L591.0,199.9 L591.5,202.7 L592.0,205.4 L592.5,208.1 L593.0,210.7 L593.5,213.4 L594.0,216.0 L594.5,218.5 L595.0,221.0 L595.5,223.4 L596.0,225.8 L596.5,228.1 L597.0,230.4 L597.5,232.6 L598.0,234.7 L598.5,236.7 L599.0,238.7 L599.5,240.6 L600.0,242.5 L600.5,244.2 L601.0,246.0 L601.5,247.6 L602.0,249.2 L602.5,250.8 L603.0,252.3 L603.5,253.7 L604.0,255.1 L604.5,256.4 L605.0,257.7 L605.5,258.9 L606.0,260.1 L606.5,261.3 L607.0,262.4 L607.5,263.4 L608.0,264.5 L608.5,265.5 L609.0,266.4 L609.5,267.3 L610.0,268.2 L610.5,269.1 L611.0,269.9 L611.5,270.7 L612.0,271.4 L612.5,272.2 L613.0,272.9 L613.5,273.6 L614.0,274.2 L614.5,274.9 L615.0,275.5 L615.5,276.1 L616.0,276.7 L616.5,277.2 L617.0,277.8 L617.5,278.3 L618.0,278.8 L618.5,279.3 L619.0,279.8 L619.5,280.2 L620.0,280.7 L620.5,281.1 L621.0,281.5 L621.5,281.9 L622.0,282.3 L622.5,282.7 L623.0,283.0 L623.5,283.4 L624.0,283.7 L624.5,284.1 L625.0,284.4 L625.5,284.7 L626.0,285.0 L626.5,285.3 L627.0,285.6 L627.5,285.9 L628.0,286.2 L628.5,286.4 L629.0,286.7 L629.5,286.9 L630.0,287.2 L630.5,287.4 L631.0,287.7 L631.5,287.9 L632.0,288.1 L632.5,288.3 L633.0,288.5 L633.5,288.7 L634.0,288.9 L634.5,289.1 L635.0,289.3 L635.5,289.5 L636.0,289.7 L636.5,289.9 L637.0,290.0 L637.5,290.2 L638.0,290.4 L638.5,290.5 L639.0,290.7 L639.5,290.8 L640.0,291.0 L640.5,291.1 L641.0,291.2 L641.5,291.4 L642.0,291.5 L642.5,291.7 L643.0,291.8 L643.5,291.9 L644.0,292.0 L644.5,292.1 L645.0,292.3 L645.5,292.4 L646.0,292.5 L646.5,292.6 L647.0,292.7 L647.5,292.8 L648.0,292.9 L648.5,293.0 L649.0,293.1 L649.5,293.2 L650.0,293.3 L650.5,293.4 L651.0,293.5 L651.5,293.6 L652.0,293.7 L652.5,293.8 L653.0,293.8 L653.5,293.9 L654.0,294.0 L654.5,294.1 L655.0,294.2 L655.5,294.2 L656.0,294.3 L656.5,294.4 L657.0,294.5 L657.5,294.5 L658.0,294.6 L658.5,294.7 L659.0,294.7 L659.5,294.8 L660.0,294.9 L660.5,294.9 L661.0,295.0 L661.5,295.0 L662.0,295.1 L662.5,295.2 L663.0,295.2 L663.5,295.3 L664.0,295.3 L664.5,295.4 L665.0,295.4 L665.5,295.5 L666.0,295.5 L666.5,295.6 L667.0,295.6 L667.5,295.7 L668.0,295.7 L668.5,295.8 L669.0,295.8 L669.5,295.9 L670.0,295.9 L670.5,296.0 L671.0,296.0" fill="none" stroke="#2a35b8" stroke-width="0.9" stroke-linejoin="round"/>
<path d="M441.0,296.2 L441.5,296.2 L442.0,296.2 L442.5,296.1 L443.0,296.1 L443.5,296.1 L444.0,296.0 L444.5,296.0 L445.0,296.0 L445.5,295.9 L446.0,295.9 L446.5,295.9 L447.0,295.8 L447.5,295.8 L448.0,295.7 L448.5,295.7 L449.0,295.7 L449.5,295.6 L450.0,295.6 L450.5,295.5 L451.0,295.5 L451.5,295.5 L452.0,295.4 L452.5,295.4 L453.0,295.3 L453.5,295.3 L454.0,295.2 L454.5,295.2 L455.0,295.1 L455.5,295.1 L456.0,295.1 L456.5,295.0 L457.0,295.0 L457.5,294.9 L458.0,294.8 L458.5,294.8 L459.0,294.7 L459.5,294.7 L460.0,294.6 L460.5,294.6 L461.0,294.5 L461.5,294.5 L462.0,294.4 L462.5,294.3 L463.0,294.3 L463.5,294.2 L464.0,294.2 L464.5,294.1 L465.0,294.0 L465.5,294.0 L466.0,293.9 L466.5,293.8 L467.0,293.8 L467.5,293.7 L468.0,293.6 L468.5,293.6 L469.0,293.5 L469.5,293.4 L470.0,293.3 L470.5,293.3 L471.0,293.2 L471.5,293.1 L472.0,293.0 L472.5,292.9 L473.0,292.8 L473.5,292.8 L474.0,292.7 L474.5,292.6 L475.0,292.5 L475.5,292.4 L476.0,292.3 L476.5,292.2 L477.0,292.1 L477.5,292.0 L478.0,291.9 L478.5,291.8 L479.0,291.7 L479.5,291.6 L480.0,291.5 L480.5,291.4 L481.0,291.2 L481.5,291.1 L482.0,291.0 L482.5,290.9 L483.0,290.8 L483.5,290.6 L484.0,290.5 L484.5,290.4 L485.0,290.2 L485.5,290.1 L486.0,290.0 L486.5,289.8 L487.0,289.7 L487.5,289.5 L488.0,289.3 L488.5,289.2 L489.0,289.0 L489.5,288.9 L490.0,288.7 L490.5,288.5 L491.0,288.3 L491.5,288.1 L492.0,288.0 L492.5,287.8 L493.0,287.6 L493.5,287.4 L494.0,287.2 L494.5,286.9 L495.0,286.7 L495.5,286.5 L496.0,286.3 L496.5,286.0 L497.0,285.8 L497.5,285.5 L498.0,285.3 L498.5,285.0 L499.0,284.8 L499.5,284.5 L500.0,284.2 L500.5,283.9 L501.0,283.6 L501.5,283.3 L502.0,283.0 L502.5,282.7 L503.0,282.3 L503.5,282.0 L504.0,281.6 L504.5,281.2 L505.0,280.9 L505.5,280.5 L506.0,280.1 L506.5,279.6 L507.0,279.2 L507.5,278.8 L508.0,278.3 L508.5,277.8 L509.0,277.4 L509.5,276.8 L510.0,276.3 L510.5,275.8 L511.0,275.2 L511.5,274.6 L512.0,274.1 L512.5,273.4 L513.0,272.8 L513.5,272.1 L514.0,271.4 L514.5,270.7 L515.0,270.0 L515.5,269.2 L516.0,268.4 L516.5,267.6 L517.0,266.7 L517.5,265.9 L518.0,264.9 L518.5,264.0 L519.0,263.0 L519.5,262.0 L520.0,260.9 L520.5,259.8 L521.0,258.6 L521.5,257.4 L522.0,256.1 L522.5,254.8 L523.0,253.5 L523.5,252.1 L524.0,250.6 L524.5,249.1 L525.0,247.5 L525.5,245.9 L526.0,244.2 L526.5,242.4 L527.0,240.6 L527.5,238.7 L528.0,236.7 L528.5,234.6 L529.0,232.5 L529.5,230.4 L530.0,228.1 L530.5,225.8 L531.0,223.4 L531.5,221.0 L532.0,218.5 L532.5,216.0 L533.0,213.4 L533.5,210.7 L534.0,208.1 L534.5,205.4 L535.0,202.8 L535.5,200.1 L536.0,197.4 L536.5,194.8 L537.0,192.3 L537.5,189.8 L538.0,187.5 L538.5,185.2 L539.0,183.1 L539.5,181.2 L540.0,179.4 L540.5,177.8 L541.0,176.5 L541.5,175.3 L542.0,174.4 L542.5,173.8 L543.0,173.3 L543.5,173.1 L544.0,173.1 L544.5,173.2 L545.0,173.6 L545.5,174.1 L546.0,174.7 L546.5,175.5 L547.0,176.4 L547.5,177.5 L548.0,178.6 L548.5,179.9 L549.0,181.2 L549.5,182.5 L550.0,184.0 L550.5,185.4 L551.0,186.8 L551.5,188.3 L552.0,189.7 L552.5,191.2 L553.0,192.5 L553.5,193.9 L554.0,195.2 L554.5,196.4 L555.0,197.6 L555.5,198.7 L556.0,199.7 L556.5,200.7 L557.0,201.5 L557.5,202.3 L558.0,203.0 L558.5,203.6 L559.0,204.1 L559.5,204.5 L560.0,204.8 L560.5,205.0 L561.0,205.1 L561.5,205.1 L562.0,205.0 L562.5,204.8 L563.0,204.5 L563.5,204.1 L564.0,203.6 L564.5,203.0 L565.0,202.2 L565.5,201.4 L566.0,200.5 L566.5,199.4 L567.0,198.3 L567.5,197.0 L568.0,195.7 L568.5,194.2 L569.0,192.7 L569.5,191.1 L570.0,189.3 L570.5,187.5 L571.0,185.7 L571.5,183.7 L572.0,181.8 L572.5,179.7 L573.0,177.6 L573.5,175.5 L574.0,173.4 L574.5,171.3 L575.0,169.2 L575.5,167.2 L576.0,165.2 L576.5,163.2 L577.0,161.4 L577.5,159.7 L578.0,158.1 L578.5,156.7 L579.0,155.5 L579.5,154.4 L580.0,153.6 L580.5,152.9 L581.0,152.6 L581.5,152.4 L582.0,152.5 L582.5,152.9 L583.0,153.5 L583.5,154.4 L584.0,155.5 L584.5,156.9 L585.0,158.5 L585.5,160.3 L586.0,162.3 L586.5,164.4 L587.0,166.8 L587.5,169.2 L588.0,171.8 L588.5,174.5 L589.0,177.3 L589.5,180.1 L590.0,183.0 L590.5,185.9 L591.0,188.8 L591.5,191.7 L592.0,194.6 L592.5,197.5 L593.0,200.4 L593.5,203.2 L594.0,206.0 L594.5,208.7 L595.0,211.4 L595.5,214.0 L596.0,216.5 L596.5,219.0 L597.0,221.4 L597.5,223.7 L598.0,226.0 L598.5,228.2 L599.0,230.3 L599.5,232.3 L600.0,234.3 L600.5,236.2 L601.0,238.1 L601.5,239.9 L602.0,241.6 L602.5,243.3 L603.0,244.9 L603.5,246.4 L604.0,247.9 L604.5,249.3 L605.0,250.7 L605.5,252.1 L606.0,253.4 L606.5,254.6 L607.0,255.8 L607.5,257.0 L608.0,258.1 L608.5,259.2 L609.0,260.2 L609.5,261.2 L610.0,262.2 L610.5,263.1 L611.0,264.0 L611.5,264.9 L612.0,265.7 L612.5,266.5 L613.0,267.3 L613.5,268.1 L614.0,268.8 L614.5,269.5 L615.0,270.2 L615.5,270.9 L616.0,271.5 L616.5,272.2 L617.0,272.8 L617.5,273.4 L618.0,273.9 L618.5,274.5 L619.0,275.0 L619.5,275.5 L620.0,276.0 L620.5,276.5 L621.0,277.0 L621.5,277.4 L622.0,277.9 L622.5,278.3 L623.0,278.7 L623.5,279.1 L624.0,279.5 L624.5,279.9 L625.0,280.3 L625.5,280.7 L626.0,281.0 L626.5,281.4 L627.0,281.7 L627.5,282.0 L628.0,282.3 L628.5,282.7 L629.0,283.0 L629.5,283.2 L630.0,283.5 L630.5,283.8 L631.0,284.1 L631.5,284.3 L632.0,284.6 L632.5,284.9 L633.0,285.1 L633.5,285.3 L634.0,285.6 L634.5,285.8 L635.0,286.0 L635.5,286.2 L636.0,286.5 L636.5,286.7 L637.0,286.9 L637.5,287.1 L638.0,287.3 L638.5,287.5 L639.0,287.6 L639.5,287.8 L640.0,288.0 L640.5,288.2 L641.0,288.3 L641.5,288.5 L642.0,288.7 L642.5,288.8 L643.0,289.0 L643.5,289.1 L644.0,289.3 L644.5,289.4 L645.0,289.6 L645.5,289.7 L646.0,289.9 L646.5,290.0 L647.0,290.1 L647.5,290.2 L648.0,290.4 L648.5,290.5 L649.0,290.6 L649.5,290.7 L650.0,290.9 L650.5,291.0 L651.0,291.1 L651.5,291.2 L652.0,291.3 L652.5,291.4 L653.0,291.5 L653.5,291.6 L654.0,291.7 L654.5,291.8 L655.0,291.9 L655.5,292.0 L656.0,292.1 L656.5,292.2 L657.0,292.3 L657.5,292.4 L658.0,292.5 L658.5,292.5 L659.0,292.6 L659.5,292.7 L660.0,292.8 L660.5,292.9 L661.0,293.0 L661.5,293.0 L662.0,293.1 L662.5,293.2 L663.0,293.3 L663.5,293.3 L664.0,293.4 L664.5,293.5 L665.0,293.5 L665.5,293.6 L666.0,293.7 L666.5,293.7 L667.0,293.8 L667.5,293.9 L668.0,293.9 L668.5,294.0 L669.0,294.1 L669.5,294.1 L670.0,294.2 L670.5,294.2 L671.0,294.3" fill="none" stroke="#dd1111" stroke-width="1.0" stroke-linejoin="round"/>
<text x="532.9" y="159.2" font-size="9.7" fill="#111" stroke="#111" stroke-width="0.2" text-anchor="start" transform="rotate(-90 532.9 159.2)" textLength="37.4" lengthAdjust="spacingAndGlyphs">Cu (111)</text>
<text x="545.5" y="156.2" font-size="9.7" fill="#111" stroke="#111" stroke-width="0.2" text-anchor="start" transform="rotate(-90 545.5 156.2)" textLength="45.4" lengthAdjust="spacingAndGlyphs">FCC (111)</text>
<text x="558.5" y="159.8" font-size="9.7" fill="#111" stroke="#111" stroke-width="0.2" text-anchor="start" transform="rotate(-90 558.5 159.8)" textLength="36.9" lengthAdjust="spacingAndGlyphs">Co (111)</text>
<text x="571.5" y="156.2" font-size="9.7" fill="#111" stroke="#111" stroke-width="0.2" text-anchor="start" transform="rotate(-90 571.5 156.2)" textLength="34.4" lengthAdjust="spacingAndGlyphs">Fe (110)</text>
<text x="585.7" y="143.2" font-size="9.7" fill="#111" stroke="#111" stroke-width="0.2" text-anchor="start" transform="rotate(-90 585.7 143.2)" textLength="45.2" lengthAdjust="spacingAndGlyphs">BCC (110)</text>
<text x="605.3" y="188.8" font-size="9.7" fill="#111" stroke="#111" stroke-width="0.2" text-anchor="start" transform="rotate(-90 605.3 188.8)" textLength="38.2" lengthAdjust="spacingAndGlyphs">Co (110)</text>
<line x1="599.30" y1="189.40" x2="592.01" y2="198.49" stroke="#111" stroke-width="0.8"/><polygon points="589.2,202.0 590.8,197.5 593.3,199.5" fill="#111"/>
<rect x="554" y="229.8" width="75.90" height="21.40" fill="#fff" stroke="#111" stroke-width="1.4"/>
<text x="561.5" y="244.5" font-size="10.2" fill="#bb4b20" stroke="#bb4b20" stroke-width="0.2" text-anchor="start" textLength="61.9" lengthAdjust="spacingAndGlyphs">bcc-Co<tspan font-size="8.16" dy="3.06">70</tspan><tspan dy="-3.06">Fe</tspan><tspan font-size="8.16" dy="3.06">30</tspan></text>
<rect x="518.4" y="265.5" width="42.60" height="19.50" fill="#fff" stroke="#111" stroke-width="1.4"/>
<text x="525.2" y="278.6" font-size="10.2" fill="#bb4b20" stroke="#bb4b20" stroke-width="0.2" text-anchor="start" textLength="30.1" lengthAdjust="spacingAndGlyphs">fcc-Cu</text>
<rect x="414.4" y="94.9" width="97.00" height="63.30" fill="#fff" stroke="#222" stroke-width="1.1"/>
<text x="417.1" y="104.7" font-size="8.5" fill="#111" stroke="#111" stroke-width="0.2" text-anchor="start" textLength="83.8" lengthAdjust="spacingAndGlyphs">Co-Fe(5nm)/Cu(5nm)</text>
<text x="417.1" y="114.7" font-size="8.5" fill="#111" stroke="#111" stroke-width="0.2" text-anchor="start" textLength="80.2" lengthAdjust="spacingAndGlyphs">citrate bath, pH = 5.6</text>
<text x="417.1" y="125.5" font-size="8.5" fill="#111" stroke="#111" stroke-width="0.2" text-anchor="start" textLength="79.9" lengthAdjust="spacingAndGlyphs">j<tspan font-size="6.80" dy="3.91">magn</tspan><tspan dy="-3.91"> = 20.7 mA/cm</tspan><tspan font-size="6.80" dy="-3.57">2</tspan></text>
<text x="417.1" y="135.4" font-size="8.5" fill="#111" stroke="#111" stroke-width="0.2" text-anchor="start" textLength="66.9" lengthAdjust="spacingAndGlyphs">c<tspan font-size="6.80" dy="3.91">ion,Fe</tspan><tspan dy="-3.91"> = 20 mol%</tspan></text>
<rect x="626.8" y="100.2" width="55.50" height="16.00" fill="#fff" stroke="#333" stroke-width="1"/>
<line x1="633.00" y1="108.90" x2="661.60" y2="108.90" stroke="#111" stroke-width="1"/>
<text x="665.7" y="113.7" font-size="12" fill="#111" stroke="#111" stroke-width="0.2" text-anchor="start" textLength="13.3" lengthAdjust="spacingAndGlyphs">15</text>
<text x="503.5" y="368.5" font-size="12" fill="#111" stroke="#111" stroke-width="0.2" text-anchor="start" textLength="143.3" lengthAdjust="spacingAndGlyphs" xml:space="preserve">a(fcc,111) =  0.3583(2) nm</text>
<text x="503.5" y="383.5" font-size="12" fill="#111" stroke="#111" stroke-width="0.2" text-anchor="start" textLength="143.3" lengthAdjust="spacingAndGlyphs">a(bcc,110) = 0.2836(2) nm</text>
<rect x="33.5" y="407" width="201.50" height="19.20" fill="#fff" stroke="#222" stroke-width="1.5"/>
<text x="40.7" y="421.8" font-size="10.2" fill="#bb4b20" stroke="#bb4b20" stroke-width="0.2" text-anchor="start" textLength="175.2" lengthAdjust="spacingAndGlyphs">Δa(fcc) = a(Vegard's law) – a(fcc,111)</text>
<rect x="245.5" y="396.3" width="245.30" height="37.70" fill="#fff" stroke="#222" stroke-width="1.3"/>
<text x="249.3" y="407.3" font-size="10.2" fill="#2020a8" stroke="#2020a8" stroke-width="0.2" text-anchor="start" textLength="109.8" lengthAdjust="spacingAndGlyphs">a(fcc-Co) = 0.35446 nm</text>
<text x="249.3" y="418.9" font-size="10.2" fill="#2020a8" stroke="#2020a8" stroke-width="0.2" text-anchor="start" textLength="109.8" lengthAdjust="spacingAndGlyphs">a(fcc-Cu) = 0.36148 nm</text>
<text x="249.3" y="430.6" font-size="10.2" fill="#2020a8" stroke="#2020a8" stroke-width="0.2" text-anchor="start" textLength="109.1" lengthAdjust="spacingAndGlyphs">a(fcc-Fe) = 0.36017 nm</text>
<text x="370.9" y="407.3" font-size="10.2" fill="#2020a8" stroke="#2020a8" stroke-width="0.2" text-anchor="start" textLength="114.6" lengthAdjust="spacingAndGlyphs" xml:space="preserve">a(bcc-Fe) =  0.28665 nm</text>
<text x="370.9" y="418.9" font-size="10.2" fill="#2020a8" stroke="#2020a8" stroke-width="0.2" text-anchor="start" textLength="110.1" lengthAdjust="spacingAndGlyphs" xml:space="preserve">a(bcc-Co) =  0.2827 nm</text>
<rect x="501.5" y="407.4" width="196.50" height="19.30" fill="#fff" stroke="#222" stroke-width="1.5"/>
<text x="509.5" y="421.4" font-size="10.2" fill="#bb4b20" stroke="#bb4b20" stroke-width="0.2" text-anchor="start" textLength="180.2" lengthAdjust="spacingAndGlyphs">Δa(bcc) = a(Vegard's law) – a(bcc,110)</text>
</svg>
</body></html>
